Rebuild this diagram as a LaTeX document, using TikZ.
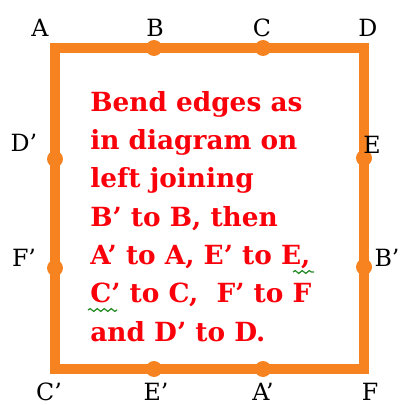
\documentclass[tikz,border=0pt]{standalone}
\usepackage{fontspec}
\setmainfont{DejaVu Serif}
\usetikzlibrary{positioning,decorations.pathmorphing}
\definecolor{edgeorange}{RGB}{247,130,32}
\definecolor{notered}{RGB}{250,0,10}
\definecolor{spellgreen}{RGB}{40,140,40}
\tikzset{
  edge/.style  ={draw=edgeorange, line width=6.2pt, line join=miter},
  pin/.style   ={circle, fill=edgeorange, inner sep=0pt, minimum size=0.32cm},
  vlbl/.style  ={font=\fontsize{13.5}{15}\selectfont, inner sep=0pt},
  note/.style  ={font=\fontsize{15}{21.8}\selectfont\bfseries, text=notered,
                 align=left, inner sep=0pt},
  squig/.style ={draw=spellgreen, line width=0.7pt, decorate,
                 decoration={snake, amplitude=0.8pt, segment length=4pt}},
}

\begin{document}
\begin{tikzpicture}[x=0.02cm,y=-0.02cm]
\useasboundingbox (0,0) rectangle (400,405);
% ---- the square ------------------------------------------------------
\coordinate (tl) at (55,48);
\coordinate (br) at (364,369);
\draw[edge] (tl) rectangle (br);

% ---- joining points on the edges -------------------------------------
\node[pin] (pB)  at (154,48)  {};
\node[pin] (pC)  at (263,48)  {};
\node[pin] (pDp) at (55,159)  {};
\node[pin] (pFp) at (55,268)  {};
\node[pin] (pE)  at (364,158) {};
\node[pin] (pBp) at (364,267) {};
\node[pin] (pEp) at (154,369) {};
\node[pin] (pAp) at (263,369) {};

% ---- vertex labels ---------------------------------------------------
\node[vlbl] (A)  at (40,28)   {A};
\node[vlbl] (B)  at (155,28)  {B};
\node[vlbl] (C)  at (262,28)  {C};
\node[vlbl] (D)  at (368,28)  {D};
\node[vlbl] (Dp) at (24,143)  {D’};
\node[vlbl] (Fp) at (24,258)  {F’};
\node[vlbl] (E)  at (372,145) {E};
\node[vlbl] (Bp) at (387,258) {B’};
\node[vlbl] (Cp) at (49,392)  {C’};
\node[vlbl] (Ep) at (156,392) {E’};
\node[vlbl] (Ap) at (263,392) {A’};
\node[vlbl] (F)  at (370,392) {F};

% ---- instructions ----------------------------------------------------
\node[note, anchor=north west] (txt) at (90,91)
  {Bend edges as\\in diagram on\\left joining\\B’ to B, then\\
   A’ to A, E’ to E,\\C’ to C,\ \ F’ to F\\and D’ to D.};
\draw[squig] (293,272) -- (314,272);
\draw[squig] (88,310) -- (117,310);
\end{tikzpicture}
\end{document}
